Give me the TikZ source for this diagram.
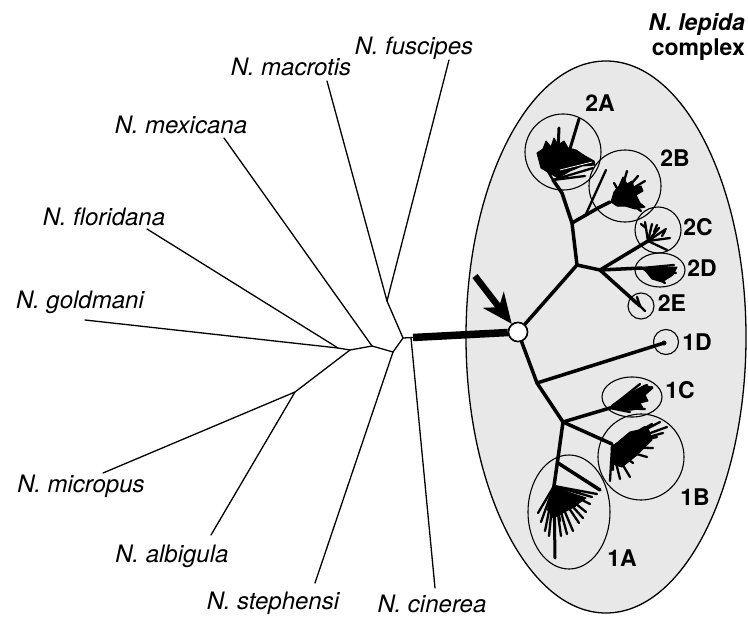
\documentclass[tikz,border=0pt]{standalone}
\usepackage{fontspec}
\setmainfont{TeX Gyre Heros}
\usetikzlibrary{arrows.meta}
\definecolor{ellgray}{RGB}{232,232,232}
\begin{document}
\begin{tikzpicture}[x=1pt,y=-1pt,
  species/.style={font=\fontsize{24}{28}\selectfont\itshape, inner sep=0pt, anchor=base},
  cladelbl/.style={font=\fontsize{23}{27}\selectfont\bfseries, inner sep=0pt, anchor=base},
  thinline/.style={line width=1.3pt, line cap=round},
  stem/.style={line width=3.5pt, line cap=round, line join=round},
  twig/.style={line width=2.3pt, line cap=round},
  ring/.style={line width=1.1pt},
  blob/.style={fill=black, draw=black, line width=1pt, line join=round}
]
\useasboundingbox (0,0) rectangle (748,618);
\fill[white] (0,0) rectangle (748,618);

% N. lepida complex ellipse
\draw[fill=ellgray, line width=1.3pt] (606,337) ellipse [x radius=140pt, y radius=276pt];

% labels
\node[font=\fontsize{23}{27}\selectfont\bfseries\itshape, inner sep=0pt, anchor=base east] (tlep) at (745,31) {N. lepida};
\node[font=\fontsize{23}{27}\selectfont\bfseries, inner sep=0pt, anchor=base east] (tcomp) at (745,56) {complex};
\node[species] (tfus) at (414,55) {N. fuscipes};
\node[species] (tmac) at (291,76) {N. macrotis};
\node[species] (tmex) at (181,133) {N. mexicana};
\node[species] (tflo) at (104,225) {N. floridana};
\node[species] (tgol) at (80,308) {N. goldmani};
\node[species] (tmic) at (81,492) {N. micropus};
\node[species] (talb) at (172,562) {N. albigula};
\node[species] (tste) at (273,609) {N. stephensi};
\node[species] (tcin) at (432,612) {N. cinerea};

% outgroup tree coordinates
\coordinate (fus) at (449,60);
\coordinate (mac) at (327,81);
\coordinate (mex) at (224,138);
\coordinate (flo) at (147,229);
\coordinate (gol) at (85,320);
\coordinate (mic) at (103,473);
\coordinate (alb) at (211,535);
\coordinate (ste) at (315,583);
\coordinate (cin) at (435,588);
\coordinate (G) at (387,301);
\coordinate (A) at (403,338);
\coordinate (B) at (393,352);
\coordinate (C) at (372,346);
\coordinate (D) at (350,350);
\coordinate (E) at (338,348);
\coordinate (F) at (295,392);
\coordinate (cinS) at (411,338);
\coordinate (barS) at (413,337.5);

\draw[thinline] (fus) -- (G);
\draw[thinline] (mac) -- (G);
\draw[thinline] (G) -- (A) -- (barS);
\draw[thinline] (cinS) -- (cin);
\draw[thinline] (A) -- (B) -- (ste);
\draw[thinline] (B) -- (C) -- (mex);
\draw[thinline] (C) -- (D) -- (E) -- (gol);
\draw[thinline] (E) -- (flo);
\draw[thinline] (D) -- (F) -- (mic);
\draw[thinline] (F) -- (alb);

% root node of lepida
\node[circle, draw, fill=white, line width=1.5pt, minimum size=19pt, inner sep=0pt] (O) at (518,332) {};
\draw[line width=7.5pt] (barS) -- (O);

% lepida tree coordinates
\coordinate (H) at (577,265);
\coordinate (I) at (572,223);
\coordinate (I2) at (562,193);
\coordinate (b2A) at (553,180);
\coordinate (b2B) at (610,202);
\coordinate (J) at (600,270);
\coordinate (c2C) at (648,241);
\coordinate (c2D) at (642,268);
\coordinate (c2E) at (640,306);
\coordinate (K) at (537,383);
\coordinate (c1D) at (664,343);
\coordinate (L) at (563,422);
\coordinate (c1C) at (610,408);
\coordinate (c1B) at (612,444);
\coordinate (M) at (558,458);
\coordinate (c1A) at (554,486);

\draw[stem] (O) -- (H) -- (I) -- (I2) -- (b2A);
\draw[stem] (I) -- (598,208) -- (b2B);
\draw[twig] (586,214) -- (606,170);
\draw[stem] (H) -- (J);
\draw[stem] (J) -- (c2C);
\draw[stem] (J) -- (c2D);
\draw[twig] (c2D) -- (674,265);
\draw[stem] (J) -- (c2E);
\draw[stem] (O) -- (K) -- (c1D);
\draw[stem] (K) -- (L);
\draw[stem] (L) -- (c1C);
\draw[stem] (L) -- (c1B);
\draw[stem] (L) -- (M) -- (c1A);
\draw[stem] (558,463) -- (600,490);

% redraw root circle on top of stems
\node[circle, draw, fill=white, line width=1.5pt, minimum size=19pt, inner sep=0pt] (O2) at (O) {};

% arrow
\coordinate (atail) at (475,276);
\draw[line width=6.5pt, -{Stealth[length=30pt,width=26pt,inset=9pt]}] (atail) -- (O2);

% clade 2A
\fill[blob] (541,168) -- (537,153) -- (543,149) -- (546,141) -- (551,147) -- (554,138) -- (558,145) -- (564,141) -- (568,148) -- (576,150) -- (585,156) -- (594,161) -- (595,165) -- (582,166) -- (570,171) -- (558,178) -- cycle;
\draw[line width=3pt, line cap=round] (558,150) -- (559,128);
\draw[line width=3pt, line cap=round] (566,162) -- (579,119);
\draw[twig] (b2A) -- (593,168);
\draw[twig] (b2A) -- (585,176);
\draw[twig] (b2A) -- (540,158);
\draw[white, line width=0.8pt] (560,170) -- (592,162);

% clade 2B
\fill[blob] (611,202) -- (614,192) -- (619,186) -- (623,177) -- (627,184) -- (632,181) -- (634,188) -- (641,186) -- (643,191) -- (636,195) -- (640,203) -- (645,207) -- (635,209) -- (625,206) -- (617,206) -- cycle;
\draw[twig] (623,185) -- (627,171);
\draw[twig] (630,190) -- (645,181);
\draw[twig] (625,200) -- (641,211);
\draw[twig] (632,183) -- (638,176);
\draw[twig] (618,190) -- (614,183);

% clade 2C
\draw[twig] (c2C) -- (645,222);
\draw[twig] (c2C) -- (652,224);
\draw[twig] (c2C) -- (659,228);
\draw[twig] (c2C) -- (666,229);
\draw[twig] (c2C) -- (670,238);
\draw[twig] (c2C) -- (667,250);
\draw[twig] (646,228) -- (641,224);
\draw[twig] (654,232) -- (657,225);
\draw[twig] (662,236) -- (665,231);

% clade 2D
\fill[blob] (643,268) -- (677,267) -- (673,275) -- (662,282) -- (652,279) -- cycle;
\draw[twig] (c2D) -- (676,273);
\draw[twig] (c2D) -- (665,283);

% clade 2E
\draw[twig] (c2E) -- (633,300);
\draw[twig] (c2E) -- (637,297);
\draw[twig] (c2E) -- (645,311);

% clade 1D
\fill (c1D) circle (2.5pt);

% clade 1C
\fill[blob] (612,405) -- (630,393) -- (645,385) -- (653,388) -- (645,395) -- (648,401) -- (640,403) -- (643,408) -- (632,410) -- (620,410) -- cycle;
\foreach \ex/\ey in {652/387,647/385,640/384,646/400,645/409,630/412}
  \draw[twig] (c1C) -- (\ex,\ey);

% clade 1B
\fill[blob] (612,447) -- (630,432) -- (648,428) -- (652,440) -- (637,455) -- (622,467) -- (612,464) -- cycle;
\foreach \ex/\ey in {667/427,663/433,660/422,657/437,653/448,647/457,633/463,630/477,620/479,610/481,613/470,645/427,652/424,640/450}
  \draw[twig] (612,447) -- (\ex,\ey);

% clade 1A
\fill[blob] (554,487) -- (548,506) -- (553,518) -- (572,508) -- (586,498) -- (568,492) -- cycle;
\foreach \ex/\ey in {538/513,541/522,545/531,549/536,554/539,561/536,567/534,573/531,579/523,583/518,590/504,597/494,592/497,580/493,548/510,560/521,575/506,586/512}
  \draw[twig] (c1A) -- (\ex,\ey);
\draw[line width=3pt, line cap=round] (c1A) -- (555,558);

% clade rings
\draw[ring] (563,152) circle (38pt);
\draw[ring] (625,186) circle (36pt);
\draw[ring] (658,230) circle (23pt);
\draw[ring] (660,270) ellipse [x radius=25pt, y radius=17pt];
\draw[ring] (641,306) circle (13pt);
\draw[ring] (666,342) circle (12.5pt);
\draw[ring] (632,397) ellipse [x radius=30pt, y radius=20pt];
\draw[ring] (641,457) circle (43pt);
\draw[ring] (569,512) ellipse [x radius=41pt, y radius=57pt];

% clade labels
\node[cladelbl] (l2A) at (600,111) {2A};
\node[cladelbl] (l2B) at (675,166) {2B};
\node[cladelbl] (l2C) at (698,235) {2C};
\node[cladelbl] (l2D) at (702,276) {2D};
\node[cladelbl] (l2E) at (672,311) {2E};
\node[cladelbl] (l1D) at (697,350) {1D};
\node[cladelbl] (l1C) at (680,398) {1C};
\node[cladelbl] (l1B) at (695,505) {1B};
\node[cladelbl] (l1A) at (622,566) {1A};
\end{tikzpicture}
\end{document}
